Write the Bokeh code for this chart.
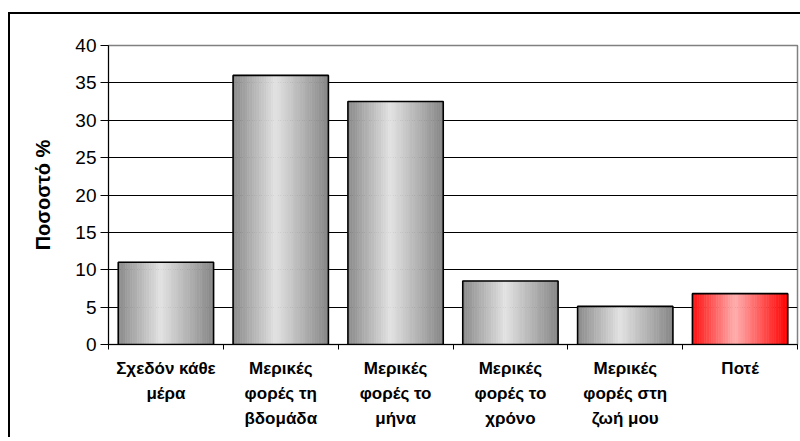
from bokeh.plotting import figure
from bokeh.models import Range1d, FixedTicker
from bokeh.embed import file_html
from bokeh.resources import INLINE

# ---- data ----
categories = ["Σχεδόν κάθε\nμέρα", "Μερικές\nφορές τη\nβδομάδα", "Μερικές\nφορές το\nμήνα",
              "Μερικές\nφορές το\nχρόνο", "Μερικές\nφορές στη\nζωή μου", "Ποτέ"]
values = [11.0, 36.0, 32.5, 8.5, 5.1, 6.8]
highlight = [False, False, False, False, False, True]
y_ticks = [0, 5, 10, 15, 20, 25, 30, 35, 40]
y_title = "Ποσοστό %"

# ---- styling helpers ----
gray_stops = [(0.0, (0x8a, 0x8a, 0x8a)), (0.45, (0xe2, 0xe2, 0xe2)), (1.0, (0x86, 0x86, 0x86))]
red_stops = [(0.0, (0xff, 0x10, 0x10)), (0.45, (0xff, 0xae, 0xae)), (1.0, (0xff, 0x00, 0x00))]


def grad(stops, t):
    for (t0, c0), (t1, c1) in zip(stops[:-1], stops[1:]):
        if t0 <= t <= t1:
            f = (t - t0) / (t1 - t0)
            c = [round(a + (b - a) * f) for a, b in zip(c0, c1)]
            return "#%02x%02x%02x" % tuple(c)
    return "#%02x%02x%02x" % stops[-1][1]


BAR_W = 0.83
N_STRIPS = 40

p = figure(width=792, height=425, output_backend="svg", toolbar_location=None,
           x_range=Range1d(0, len(values)), y_range=Range1d(0, 40),
           min_border_left=98, min_border_right=5, min_border_top=31, min_border_bottom=95)
p.styles = {"border-top": "2px solid black", "border-left": "2px solid black",
            "margin-top": "12px", "margin-left": "8px"}

centers = [i + 0.5 for i in range(len(values))]

left, right, top, bottom, colors = [], [], [], [], []
for c, v, h in zip(centers, values, highlight):
    x0 = c - BAR_W / 2
    sw = BAR_W / N_STRIPS
    for k in range(N_STRIPS):
        left.append(x0 + k * sw)
        right.append(x0 + (k + 1) * sw)
        top.append(v)
        bottom.append(0)
        colors.append(grad(red_stops if h else gray_stops, (k + 0.5) / N_STRIPS))

p.quad(left=left, right=right, top=top, bottom=bottom, fill_color=colors, line_color=colors, line_width=0.6)
p.vbar(x=centers, top=values, width=BAR_W, bottom=0, fill_color=None, line_color="black", line_width=1.6)

# grid / frame
p.xgrid.visible = False
p.ygrid.ticker = FixedTicker(ticks=y_ticks)
p.ygrid.grid_line_color = "black"
p.ygrid.grid_line_width = 1
p.outline_line_color = "#808080"
p.outline_line_width = 1.5
p.background_fill_color = "white"

# y axis
p.yaxis.ticker = FixedTicker(ticks=y_ticks)
p.yaxis.axis_line_color = "black"
p.yaxis.major_tick_line_color = "black"
p.yaxis.major_tick_out = 8
p.yaxis.major_tick_in = 0
p.yaxis.minor_tick_line_color = None
p.yaxis.major_label_text_font = "Liberation Sans"
p.yaxis.major_label_text_font_size = "19px"
p.yaxis.major_label_text_color = "black"
p.yaxis.major_label_standoff = 4
p.yaxis.axis_label = y_title
p.yaxis.axis_label_text_font = "Liberation Sans"
p.yaxis.axis_label_text_font_style = "bold"
p.yaxis.axis_label_text_font_size = "20px"
p.yaxis.axis_label_text_color = "black"
p.yaxis.axis_label_standoff = 18

# x axis
p.xaxis.ticker = FixedTicker(ticks=centers, minor_ticks=list(range(len(values) + 1)))
p.xaxis.major_label_overrides = {c: lab for c, lab in zip(centers, categories)}
p.xaxis.axis_line_color = "black"
p.xaxis.major_tick_line_color = None
p.xaxis.major_tick_out = 0
p.xaxis.major_tick_in = 0
p.xaxis.minor_tick_line_color = "black"
p.xaxis.minor_tick_out = 5
p.xaxis.minor_tick_in = 0
p.xaxis.major_label_text_font = "Liberation Sans"
p.xaxis.major_label_text_font_style = "bold"
p.xaxis.major_label_text_font_size = "17px"
p.xaxis.major_label_text_color = "black"
p.xaxis.major_label_text_line_height = 1.32
p.xaxis.major_label_standoff = 9

open("out.html", "w").write(file_html(p, INLINE))
